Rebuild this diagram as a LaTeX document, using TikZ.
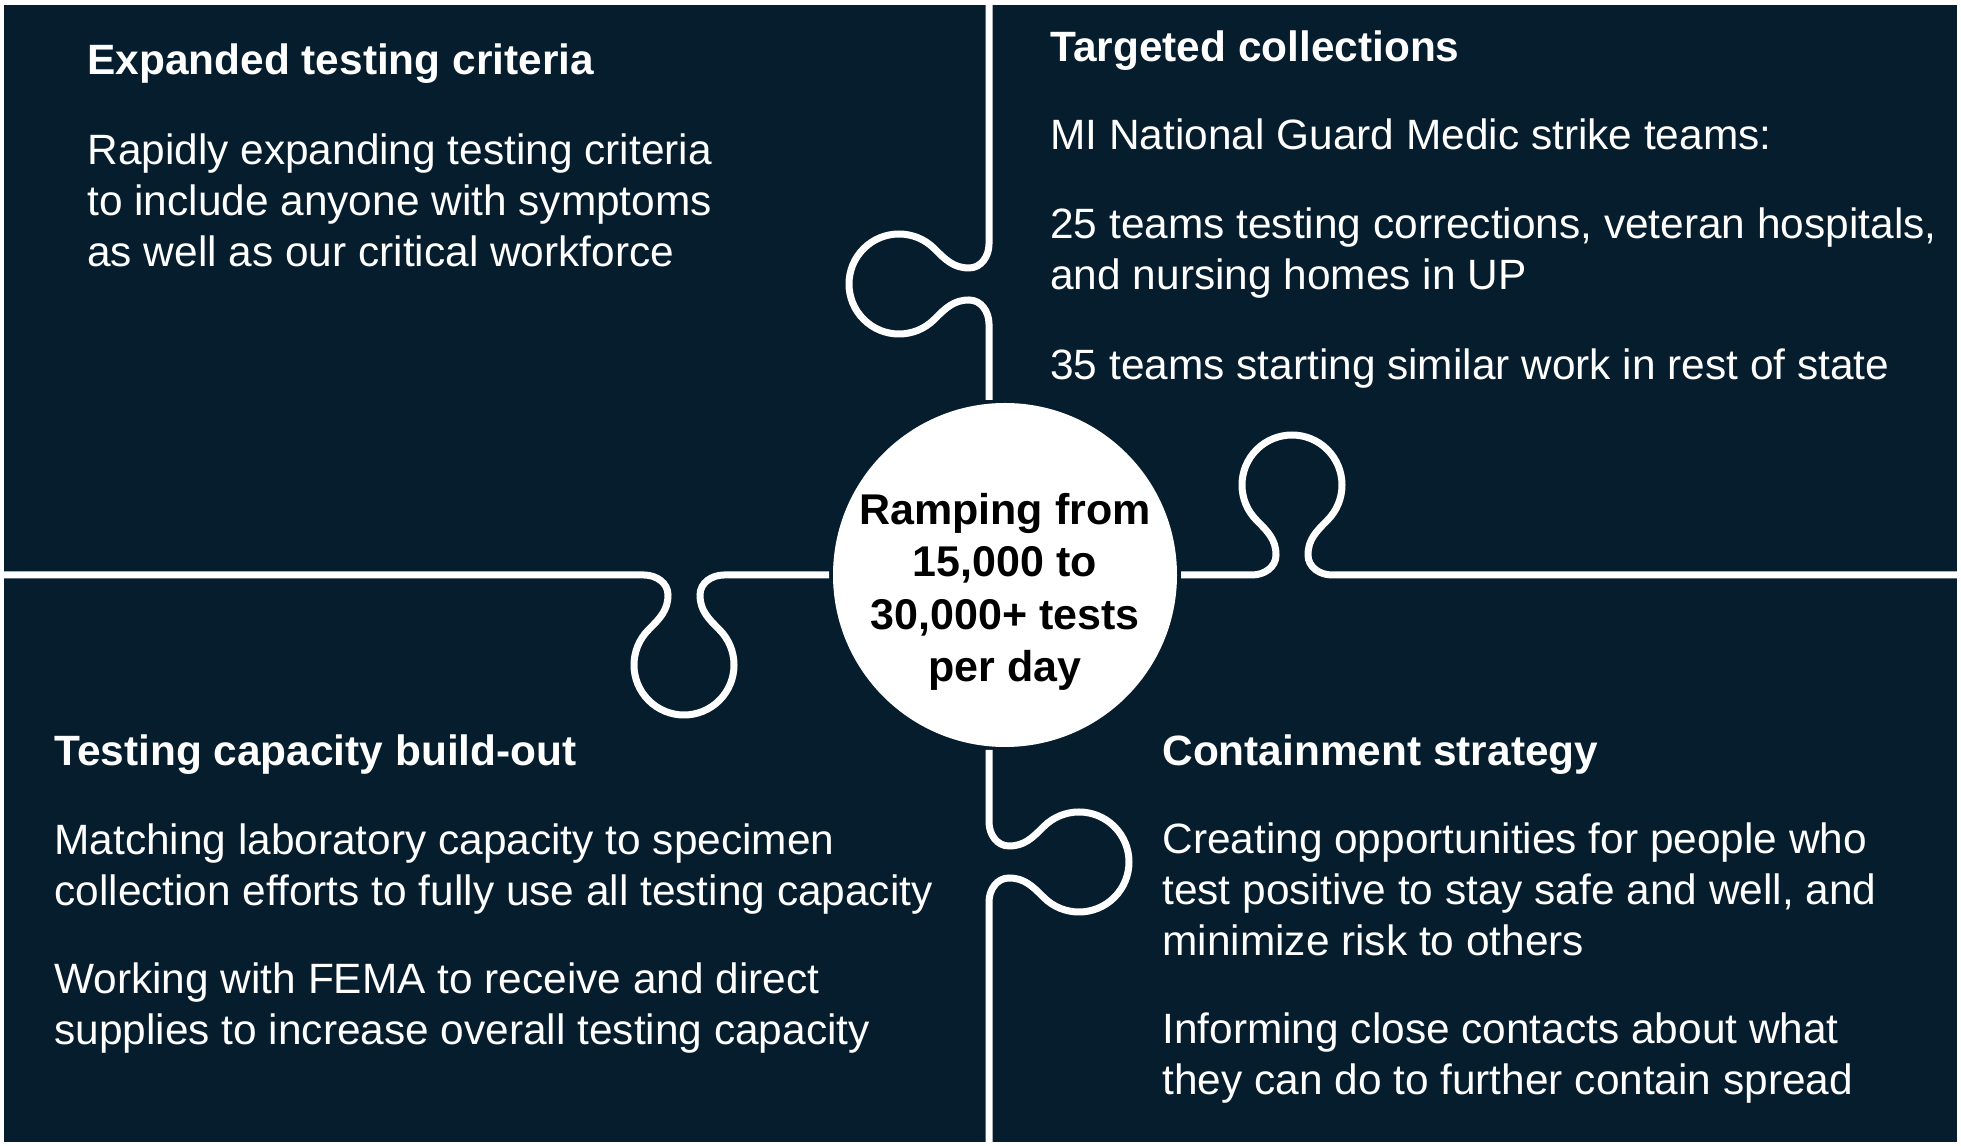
\documentclass[tikz,border=0pt]{standalone}
\usepackage{fontspec}
\setmainfont{Liberation Sans}
\definecolor{navy}{HTML}{061D2E}

\begin{document}
\begin{tikzpicture}[x=0.5pt, y=0.5pt,
        divline/.style={white, line width=3.5pt},
        headtxt/.style={anchor=base west, inner sep=0pt, text=white, font=\fontsize{21.2pt}{25.5pt}\selectfont\bfseries},
        bodytxt/.style={anchor=base west, inner sep=0pt, text=white, align=left, font=\fontsize{21.2pt}{25.5pt}\selectfont},
        hubdisc/.style={circle, fill=white, minimum size=172pt, inner sep=0pt}]
    \useasboundingbox (0,0) rectangle (1961,1146);
    \fill[white] (0,0) rectangle (1961,1146);
    \fill[navy] (4,4) rectangle (1957,1141);
    % dividers with the four puzzle knobs
    \foreach \cx/\cy/\rot/\a/\b in {989/862/90/116/284, 989/284/-90/112/284, 684/571/180/145/684, 1292/571/0/111/669}
        {
            \draw[divline, shift={(\cx,\cy)}, rotate=\rot] (-\a,0) -- (-40,0) to[out=0,in=-90] (-16,20) to[out=90,in=-45] (-35.36,54.64)
                arc[start angle=225, end angle=-45, radius=50] to[out=-135,in=90] (16,20) to[out=-90,in=180] (40,0) -- (\b,0);
        }
    \node (hub) at (1005,571) [hubdisc]{};
    % multi-line texts sit on the baseline of their last line
    \node (hubtxt) at (1005,464) [anchor=base, inner sep=0pt, align=center, font=\fontsize{21.5pt}{26.25pt}\selectfont\bfseries]{Ramping from\\15,000 to\\30,000+ tests\\per day};
    % top left
    \node (tlhead) at (87,1071) [headtxt]{Expanded testing criteria};
    \node (tlbody) at (87,879) [bodytxt]{Rapidly expanding testing criteria\\to include anyone with symptoms\\as well as our critical workforce};
    % top right
    \node (trhead) at (1050,1084) [headtxt]{Targeted collections};
    \node (trone) at (1050,996) [bodytxt]{MI National Guard Medic strike teams:};
    \node (trtwo) at (1050,856) [bodytxt]{25 teams testing corrections, veteran hospitals,\\and nursing homes in UP};
    \node (trthree) at (1050,766) [bodytxt]{35 teams starting similar work in rest of state};
    % bottom left
    \node (blhead) at (54,380) [headtxt]{Testing capacity build-out};
    \node (blone) at (54,240) [bodytxt]{Matching laboratory capacity to specimen\\collection efforts to fully use all testing capacity};
    \node (bltwo) at (54,101) [bodytxt]{Working with FEMA to receive and direct\\supplies to increase overall testing capacity};
    % bottom right
    \node (brhead) at (1162,380) [headtxt]{Containment strategy};
    \node (brone) at (1162,190) [bodytxt]{Creating opportunities for people who\\test positive to stay safe and well, and\\minimize risk to others};
    \node (brtwo) at (1162,51) [bodytxt]{Informing close contacts about what\\they can do to further contain spread};
\end{tikzpicture}
\end{document}
